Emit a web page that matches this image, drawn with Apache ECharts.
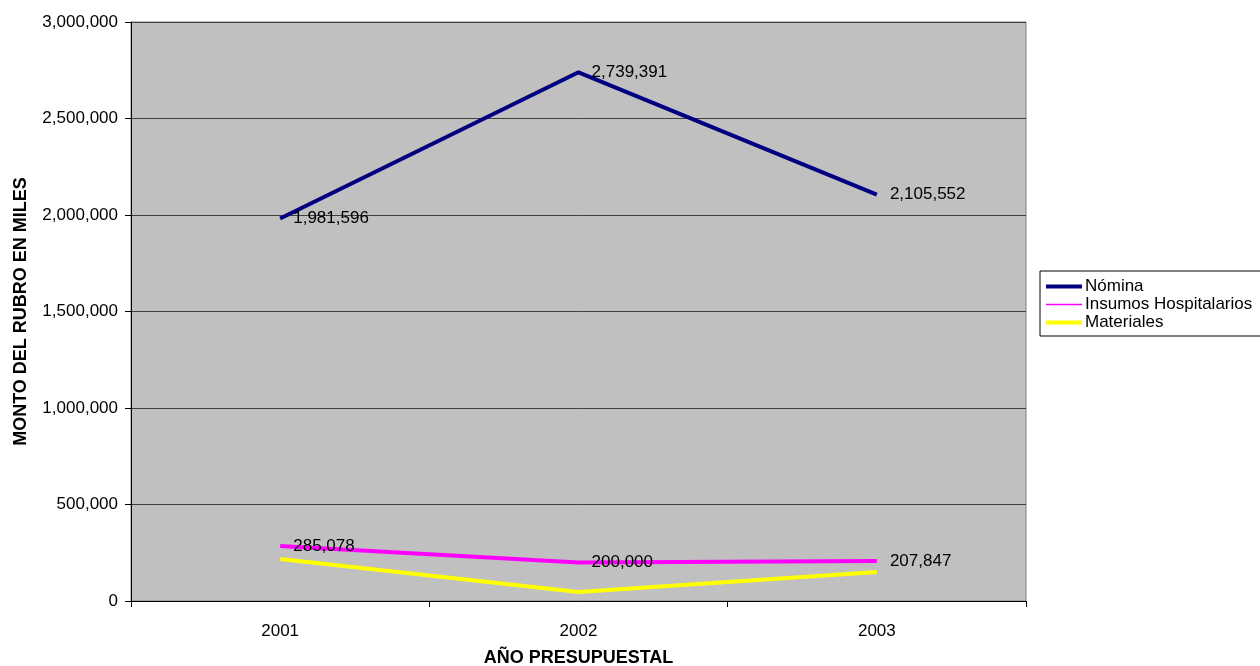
<!DOCTYPE html>
<html>
<head>
<meta charset="utf-8">
<script src="https://cdn.jsdelivr.net/npm/echarts@6/dist/echarts.min.js"></script>
<style>
  html, body { margin: 0; padding: 0; background: #fff; }
  #chart { width: 1260px; height: 666px; }
</style>
</head>
<body>
<div id="chart"></div>
<script>
const years = ['2001', '2002', '2003']
const nomina = [1981596, 2739391, 2105552]
const insumos = [285078, 200000, 207847]
const materiales = [218000, 47000, 150000]

const chart = echarts.init(document.getElementById('chart'))
const font = 'Liberation Sans, Arial, sans-serif'

function fmt(v) {
  return v.toLocaleString('en-US')
}

const labelStyle = {
  show: true,
  position: 'right',
  distance: 13,
  color: '#000',
  fontSize: 17,
  fontFamily: font,
  formatter: (p) => fmt(p.value)
}

const option = {
  animation: false,
  backgroundColor: '#fff',
  textStyle: { fontFamily: font },
  grid: {
    left: 131,
    top: 22,
    right: 234,
    bottom: 65,
    outerBoundsMode: 'none',
    containLabel: false,
    show: true,
    backgroundColor: '#C0C0C0',
    borderColor: '#808080',
    borderWidth: 1
  },
  legend: {
    orient: 'vertical',
    left: 1040,
    top: 271,
    padding: [7, 60, 5, 4],
    itemGap: 1,
    itemWidth: 36,
    itemHeight: 18,
    backgroundColor: '#fff',
    borderColor: '#000',
    borderWidth: 1,
    borderRadius: 0,
    itemStyle: { opacity: 0 },
    textStyle: { fontSize: 17, color: '#000', fontFamily: font, padding: [0, 0, 0, -2] },
    data: [
      { name: 'Nómina', lineStyle: { width: 4 } },
      { name: 'Insumos Hospitalarios', lineStyle: { width: 1.5 } },
      { name: 'Materiales', lineStyle: { width: 4 } }
    ]
  },
  xAxis: {
    type: 'category',
    data: years,
    boundaryGap: true,
    name: 'AÑO PRESUPUESTAL',
    nameLocation: 'middle',
    nameGap: 48,
    nameTextStyle: { fontSize: 18, fontWeight: 'bold', color: '#000', fontFamily: font },
    axisLine: { lineStyle: { color: '#000', width: 1 } },
    axisTick: { show: true, length: 6, lineStyle: { color: '#000' } },
    axisLabel: { fontSize: 17, color: '#000', margin: 22, fontFamily: font },
    splitLine: { show: false }
  },
  yAxis: {
    type: 'value',
    min: 0,
    max: 3000000,
    interval: 500000,
    name: 'MONTO DEL RUBRO EN MILES',
    nameLocation: 'middle',
    nameGap: 101,
    nameTextStyle: { fontSize: 18, fontWeight: 'bold', color: '#000', fontFamily: font },
    axisLine: { show: true, lineStyle: { color: '#000', width: 1 } },
    axisTick: { show: true, length: 6, lineStyle: { color: '#000' } },
    axisLabel: { fontSize: 17, color: '#000', margin: 13, fontFamily: font, formatter: (v) => fmt(v) },
    splitLine: { show: true, lineStyle: { color: '#404040', width: 1 } }
  },
  series: [
    {
      name: 'Nómina',
      type: 'line',
      data: nomina,
      symbol: 'circle',
      symbolSize: 0.1,
      showSymbol: true,
      lineStyle: { color: '#000080', width: 4 },
      itemStyle: { color: '#000080' },
      label: labelStyle,
      z: 3
    },
    {
      name: 'Insumos Hospitalarios',
      type: 'line',
      data: insumos,
      symbol: 'circle',
      symbolSize: 0.1,
      showSymbol: true,
      lineStyle: { color: '#FF00FF', width: 4 },
      itemStyle: { color: '#FF00FF' },
      label: labelStyle,
      z: 2
    },
    {
      name: 'Materiales',
      type: 'line',
      data: materiales,
      symbol: 'circle',
      symbolSize: 0.1,
      showSymbol: true,
      lineStyle: { color: '#FFFF00', width: 4 },
      itemStyle: { color: '#FFFF00' },
      z: 1
    }
  ]
}

chart.setOption(option)
</script>
</body>
</html>
